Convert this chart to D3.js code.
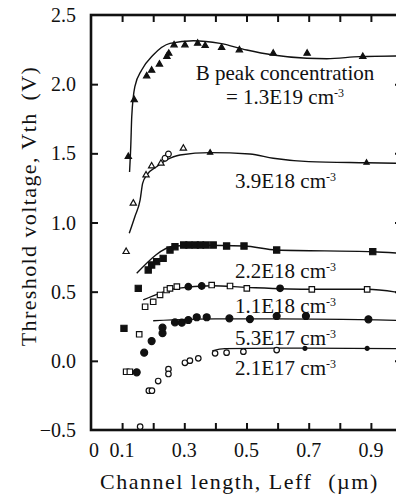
<!DOCTYPE html>
<html>
<head>
<meta charset="utf-8">
<script src="https://cdn.jsdelivr.net/npm/d3@7"></script>
<style>
  body { margin: 0; background: #fff; }
  svg { display: block; }
</style>
</head>
<body>
<svg id="chart" width="396" height="500"></svg>
<script>
const FONT = "'Liberation Serif', 'DejaVu Serif', serif";

// tick values and labels
const xTicks = [0.1, 0.2, 0.3, 0.4, 0.5, 0.6, 0.7, 0.8, 0.9];
const xTickLabels = [0, 0.1, 0.3, 0.5, 0.7, 0.9];
const yTicks = [-0.5, 0.0, 0.5, 1.0, 1.5, 2.0, 2.5];

// 1.3E19 : filled triangles
const s1Marks = [[0.12, 1.476], [0.139, 1.886], [0.179, 2.059], [0.195, 2.1], [0.22, 2.144],
  [0.244, 2.2], [0.25, 2.222], [0.267, 2.283], [0.302, 2.283], [0.343, 2.295], [0.367, 2.278],
  [0.42, 2.264], [0.477, 2.247], [0.586, 2.223], [0.695, 2.223], [0.874, 2.199]];
const s1Fit = [[0.124, 1.365], [0.128, 1.56], [0.131, 1.765], [0.141, 1.982], [0.163, 2.102],
  [0.2, 2.211], [0.254, 2.295], [0.329, 2.314], [0.415, 2.295], [0.501, 2.247], [0.586, 2.211],
  [0.694, 2.187], [0.758, 2.184], [0.865, 2.199], [1.0, 2.204]];

// 3.9E18 : open triangles / circles
const s2Tri = [[0.113, 0.789], [0.136, 1.139], [0.177, 1.343], [0.195, 1.408], [0.225, 1.428], [0.297, 1.536]];
const s2Circ = [[0.238, 1.464], [0.249, 1.495]];
const s2Small = [[0.383, 1.505], [0.886, 1.432]];
const s2Fit = [[0.123, 0.922], [0.141, 1.042], [0.158, 1.163], [0.166, 1.283], [0.179, 1.343],
  [0.211, 1.403], [0.243, 1.452], [0.286, 1.488], [0.383, 1.505], [0.511, 1.495], [0.586, 1.464],
  [0.7, 1.44], [0.886, 1.432], [1.0, 1.428]];

// 2.2E18 : filled squares
const s3Marks = [[0.106, 0.235], [0.152, 0.524], [0.184, 0.657], [0.195, 0.693], [0.211, 0.717],
  [0.232, 0.741], [0.254, 0.801], [0.27, 0.825], [0.298, 0.837], [0.315, 0.837], [0.335, 0.837],
  [0.352, 0.837], [0.37, 0.837], [0.393, 0.837], [0.436, 0.83], [0.492, 0.83], [0.597, 0.801],
  [0.906, 0.789]];
const s3Fit = [[0.147, 0.633], [0.27, 0.83], [0.35, 0.836], [0.492, 0.83], [0.597, 0.801],
  [0.906, 0.789], [1.0, 0.777]];

// 1.1E18 : open squares (plus a few filled ones in the cluster)
const s4Open = [[0.113, -0.079], [0.125, -0.079], [0.155, 0.192], [0.174, 0.391], [0.2, 0.427],
  [0.222, 0.476], [0.243, 0.512], [0.254, 0.524], [0.276, 0.536], [0.388, 0.548], [0.447, 0.541],
  [0.501, 0.524], [0.71, 0.517], [0.888, 0.517]];
const s4Filled = [[0.313, 0.536], [0.356, 0.541], [0.608, 0.524]];
const s4Fit = [[0.168, 0.44], [0.222, 0.49], [0.276, 0.524], [0.388, 0.543], [0.501, 0.531],
  [0.71, 0.517], [0.888, 0.517], [1.0, 0.49]];

// 5.3E17 : filled circles
const s5Marks = [[0.147, -0.083], [0.171, 0.059], [0.195, 0.143], [0.23, 0.2], [0.23, 0.24],
  [0.27, 0.278], [0.292, 0.276], [0.313, 0.295], [0.34, 0.315], [0.372, 0.315], [0.445, 0.307],
  [0.511, 0.302], [0.597, 0.324], [0.691, 0.324], [0.892, 0.3]];
const s5Fit = [[0.2, 0.29], [0.4, 0.303], [0.6, 0.303], [1.0, 0.292]];

// 2.1E17 : open circles
const s6Marks = [[0.158, -0.476], [0.186, -0.216], [0.196, -0.216], [0.216, -0.146], [0.249, -0.06],
  [0.249, -0.095], [0.302, -0.014], [0.318, 0.001], [0.345, 0.018], [0.399, 0.054], [0.436, 0.059],
  [0.49, 0.066], [0.597, 0.078]];
const s6Small = [[0.688, 0.09], [0.888, 0.09]];
const s6Fit = [[0.39, 0.072], [0.43, 0.088], [0.6, 0.092], [1.0, 0.088]];

// curve labels (baseline height in volts)
const labelTexts = ["3.9E18", "2.2E18", "1.1E18", "5.3E17", "2.1E17"];
const labelValues = [1.249, 0.599, 0.346, 0.114, -0.102];

const svg = d3.select("#chart");
const x = d3.scaleLinear().domain([0, 1]).range([91, 402]);
const y = d3.scaleLinear().domain([-0.5, 2.5]).range([430, 15]);

svg.append("defs").append("clipPath").attr("id", "plot")
  .append("rect")
  .attr("x", x(0)).attr("y", y(2.5))
  .attr("width", x(1) - x(0)).attr("height", y(-0.5) - y(2.5));

// frame
svg.append("rect")
  .attr("x", x(0)).attr("y", y(2.5))
  .attr("width", x(1) - x(0)).attr("height", y(-0.5) - y(2.5))
  .attr("fill", "none").attr("stroke", "#111").attr("stroke-width", 2.6);

// inward ticks on all four sides
const tickStyle = (g) => {
  g.select(".domain").remove();
  g.selectAll("line").attr("stroke", "#111").attr("stroke-width", 2);
  g.selectAll("text").remove();
};
svg.append("g").attr("transform", `translate(0,${y(-0.5)})`)
  .call(d3.axisBottom(x).tickValues(xTicks).tickSizeInner(-7).tickSizeOuter(0)).call(tickStyle);
svg.append("g").attr("transform", `translate(0,${y(2.5)})`)
  .call(d3.axisTop(x).tickValues(xTicks).tickSizeInner(-7).tickSizeOuter(0)).call(tickStyle);
svg.append("g").attr("transform", `translate(${x(0)},0)`)
  .call(d3.axisLeft(y).tickValues(yTicks.slice(1, -1)).tickSizeInner(-7).tickSizeOuter(0)).call(tickStyle);
svg.append("g").attr("transform", `translate(${x(1)},0)`)
  .call(d3.axisRight(y).tickValues(yTicks.slice(1, -1)).tickSizeInner(-7).tickSizeOuter(0)).call(tickStyle);

// tick labels
svg.selectAll(".xlab").data(xTickLabels).join("text")
  .attr("class", "xlab")
  .attr("x", (d) => x(d) + (d === 0 ? 3 : 0))
  .attr("y", 457)
  .attr("text-anchor", "middle")
  .attr("font-family", FONT)
  .attr("font-size", 20)
  .attr("fill", "#111")
  .text((d) => (d === 0 ? "0" : d3.format(".1f")(d)));

svg.selectAll(".ylab").data(yTicks).join("text")
  .attr("class", "ylab")
  .attr("x", 76)
  .attr("y", (d) => y(d) + 7)
  .attr("text-anchor", "end")
  .attr("font-family", FONT)
  .attr("font-size", 20)
  .attr("fill", "#111")
  .text((d) => d3.format(".1f")(d));

// axis titles
const xt = svg.append("text")
  .attr("x", 100).attr("y", 489)
  .attr("font-family", FONT)
  .attr("font-size", 22)
  .attr("letter-spacing", 1.5)
  .attr("fill", "#111");
xt.append("tspan").text("Channel length, Leff");
xt.append("tspan").attr("dx", 16).text("(\u00b5m)");

const yt = svg.append("text")
  .attr("transform", "translate(36,206) rotate(-90)")
  .attr("text-anchor", "middle")
  .attr("font-family", FONT)
  .attr("font-size", 22)
  .attr("letter-spacing", 1.4)
  .attr("fill", "#111");
yt.append("tspan").text("Threshold voltage, Vth");
yt.append("tspan").attr("dx", 12).text("(V)");

// fitted curves
const line = d3.line()
  .x((d) => x(d[0]))
  .y((d) => y(d[1]))
  .curve(d3.curveMonotoneX);

const plot = svg.append("g").attr("clip-path", "url(#plot)");
[s1Fit, s2Fit, s3Fit, s4Fit, s5Fit, s6Fit].forEach((fit) => {
  plot.append("path")
    .attr("d", line(fit))
    .attr("fill", "none")
    .attr("stroke", "#111")
    .attr("stroke-width", 1.4);
});

// markers
const drawSymbols = (data, type, size, filled) => {
  plot.append("g").selectAll("path").data(data).join("path")
    .attr("transform", (d) => `translate(${x(d[0])},${y(d[1])})`)
    .attr("d", d3.symbol().type(type).size(size))
    .attr("fill", filled ? "#111" : "#fff")
    .attr("stroke", "#111")
    .attr("stroke-width", 1.2);
};

drawSymbols(s1Marks, d3.symbolTriangle, 17, true);
drawSymbols(s2Tri, d3.symbolTriangle, 17, false);
drawSymbols(s2Circ, d3.symbolCircle, 26, false);
drawSymbols(s2Small, d3.symbolTriangle, 12, true);
drawSymbols(s3Marks, d3.symbolSquare, 38, true);
drawSymbols(s4Open, d3.symbolSquare, 30, false);
drawSymbols(s4Filled, d3.symbolCircle, 34, true);
drawSymbols(s5Marks, d3.symbolCircle, 38, true);
drawSymbols(s6Marks, d3.symbolCircle, 24, false);
drawSymbols(s6Small, d3.symbolCircle, 12, true);

// curve labels
const addLabel = (xPos, yPos, parts, anchor) => {
  const t = svg.append("text")
    .attr("x", xPos).attr("y", yPos)
    .attr("text-anchor", anchor)
    .attr("font-family", FONT)
    .attr("font-size", 21)
    .attr("fill", "#111");
  parts.forEach((p) => {
    const s = t.append("tspan").text(p.text);
    if (p.sup) s.attr("font-size", 12).attr("dy", -7);
  });
};

addLabel(285, 80, [{ text: "B peak concentration" }], "middle");
addLabel(285, 104, [{ text: "= 1.3E19 cm" }, { text: "-3", sup: true }], "middle");

labelTexts.forEach((txt, i) => {
  addLabel(235, y(labelValues[i]), [{ text: `${txt} cm` }, { text: "-3", sup: true }], "start");
});
</script>
</body>
</html>
